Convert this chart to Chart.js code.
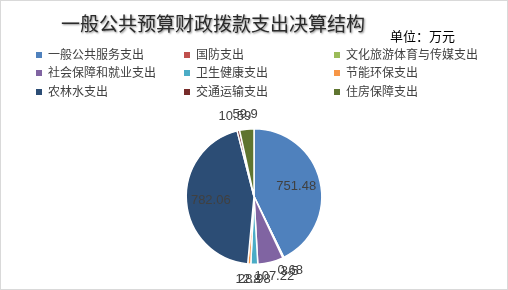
<!DOCTYPE html>
<html>
<head>
<meta charset="utf-8">
<script src="https://cdn.jsdelivr.net/npm/chart.js@4/dist/chart.umd.min.js"></script>
<style>
  body { margin: 0; background: #fff; font-family: "Noto Sans CJK SC", sans-serif; }
  #wrap { position: relative; width: 506px; height: 288px; border: 1px solid #d9d9d9; overflow: hidden; }
  #title { position: absolute; left: 60px; top: 8px; font-size: 19px; color: #2b2b2b; text-shadow: 1px 1px 2px #8a8a8a; white-space: nowrap; }
  #unit { position: absolute; left: 389px; top: 25px; font-size: 13px; color: #000; white-space: nowrap; }
  #legend { position: absolute; left: 0; top: 0; }
  .item { position: absolute; font-size: 12px; color: #404040; white-space: nowrap; line-height: 16px; }
  .box { display: inline-block; width: 6px; height: 6px; margin-right: 6px; vertical-align: 1px; }
  #c { position: absolute; left: 0; top: 0; }
</style>
</head>
<body>
<div id="wrap">
  <canvas id="c" width="506" height="288"></canvas>
  <div id="title">一般公共预算财政拨款支出决算结构</div>
  <div id="unit">单位：万元</div>
  <div id="legend"></div>
</div>
<script>
const categories = ['一般公共服务支出', '国防支出', '文化旅游体育与传媒支出', '社会保障和就业支出', '卫生健康支出', '节能环保支出', '农林水支出', '交通运输支出', '住房保障支出'];
const values = [751.48, 0.68, 3.5, 107.22, 28.98, 12.8, 782.06, 10.59, 59.9];
const colors = ['#4F81BD', '#C0504D', '#9BBB59', '#8064A2', '#4BACC6', '#F79646', '#2C4D75', '#772C2A', '#5F7530'];

// legend, 3 columns
const legend = document.getElementById('legend');
const colX = [35, 183, 333];
const rowY = [45, 63, 82];
categories.forEach((name, i) => {
    const d = document.createElement('div');
    d.className = 'item';
    d.style.left = colX[i % 3] + 'px';
    d.style.top = rowY[Math.floor(i / 3)] + 'px';
    d.innerHTML = '<span class="box" style="background:' + colors[i] + '"></span>' + name;
    legend.appendChild(d);
});

// value labels, inside for big slices, outside for small ones
const labelPlugin = {
    id: 'valueLabels',
    afterDraw(chart) {
        const ctx = chart.ctx;
        const meta = chart.getDatasetMeta(0);
        const total = values.reduce((a, b) => a + b, 0);
        ctx.save();
        ctx.font = '13px "Liberation Sans", sans-serif';
        ctx.fillStyle = '#404040';
        ctx.textAlign = 'center';
        ctx.textBaseline = 'middle';
        meta.data.forEach((arc, i) => {
            const mid = (arc.startAngle + arc.endAngle) / 2;
            const r = arc.outerRadius;
            const big = values[i] / total > 0.1;
            const d = big ? r * 0.64 : r + 15;
            const x = arc.x + Math.cos(mid) * d;
            const y = arc.y + Math.sin(mid) * d;
            ctx.fillText(String(values[i]), x, y);
        });
        ctx.restore();
    }
};

new Chart(document.getElementById('c'), {
    type: 'pie',
    data: {
        labels: categories,
        datasets: [{
            data: values,
            backgroundColor: colors,
            borderColor: '#ffffff',
            borderWidth: 1.5
        }]
    },
    options: {
        responsive: false,
        animation: false,
        layout: { padding: { top: 127, bottom: 24, left: 0, right: 0 } },
        plugins: {
            legend: { display: false },
            title: { display: false },
            tooltip: { enabled: false }
        }
    },
    plugins: [labelPlugin]
});
</script>
</body>
</html>
